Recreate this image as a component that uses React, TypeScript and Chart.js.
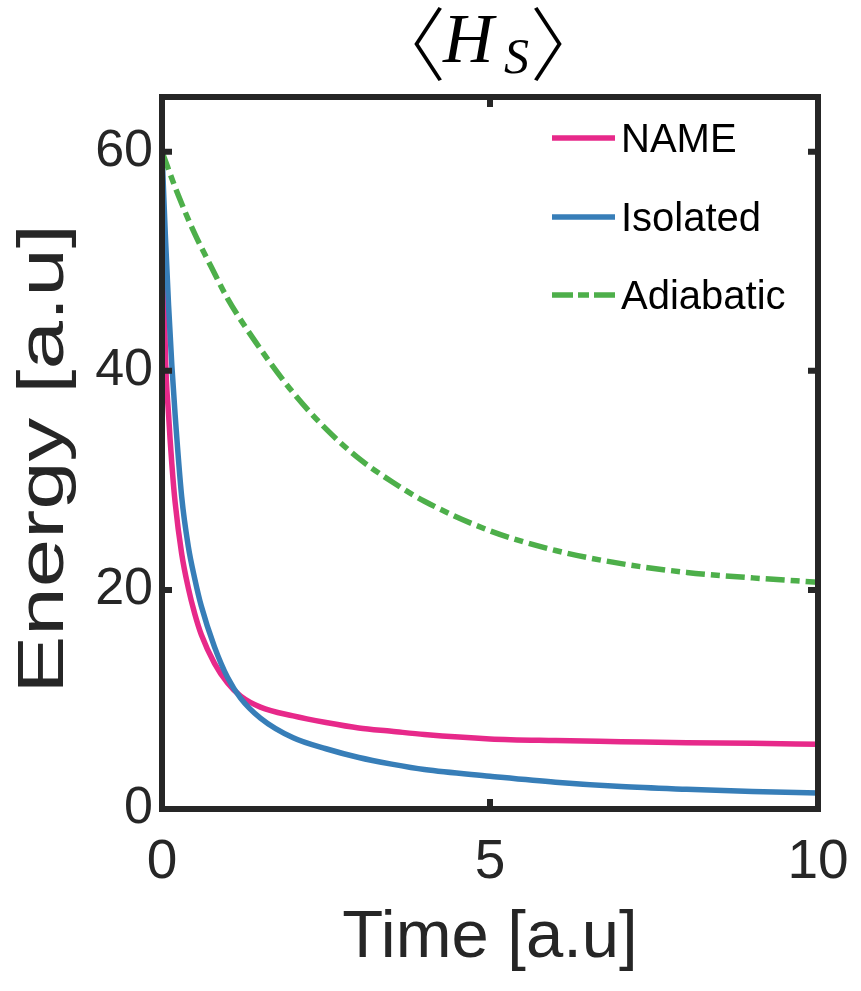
import React, { useEffect, useRef } from "react";
import { Chart, registerables } from "chart.js";

Chart.register(...registerables);

// ---- data ----
const timeSteep = [0, 0.05, 0.1, 0.15, 0.2, 0.3, 0.4, 0.5, 0.6, 0.8, 1.0, 1.2, 1.5, 2.0, 2.5, 3.0, 3.5, 4.0, 5.0, 6.0, 7.0, 8.0, 9.0, 10.0];
const nameValues = [60, 42, 36, 31.5, 28, 23.3, 20.2, 17.8, 15.9, 13.3, 11.5, 10.3, 9.3, 8.5, 7.9, 7.4, 7.1, 6.8, 6.4, 6.25, 6.15, 6.05, 6.0, 5.9];
const isolatedValues = [60, 52.5, 46, 40.5, 36, 28.5, 24, 21, 18.5, 14.8, 12.0, 10.1, 8.3, 6.5, 5.5, 4.7, 4.1, 3.6, 3.0, 2.45, 2.05, 1.8, 1.6, 1.45];
const timeAdiabatic = [0, 0.25, 0.5, 0.75, 1, 1.5, 2, 2.5, 3, 3.5, 4, 5, 6, 7, 8, 9, 10];
const adiabaticValues = [60, 56, 52.5, 49.5, 46.6, 42, 38, 34.7, 32, 29.9, 28.1, 25.4, 23.6, 22.4, 21.6, 21.1, 20.7];

const seriesLabels = ["NAME", "Isolated", "Adiabatic"];
const xTicks = [0, 5, 10];
const yTicks = [0, 20, 40, 60];
const xTitle = "Time [a.u]";
const yTitle = "Energy [a.u]";

const PINK = "#E7298A";
const BLUE = "#377EB8";
const GREEN = "#4DAF4A";
const AXIS = "#262626";
const SANS = '"Liberation Sans", Arial, Helvetica, sans-serif';
const DASH = [19, 6, 9, 6];

const pts = (xs: number[], ys: number[]) => xs.map((x, i) => ({ x, y: ys[i] }));

const framePlugin = {
  id: "frame",
  afterDatasetsDraw(chart: any) {
    const { ctx, chartArea: a, scales } = chart;
    ctx.save();
    ctx.strokeStyle = AXIS;
    ctx.lineWidth = 6;
    ctx.setLineDash([]);
    ctx.lineCap = "butt";
    ctx.strokeRect(a.left, a.top, a.right - a.left, a.bottom - a.top);
    const tl = 10;
    ctx.beginPath();
    for (const v of xTicks) {
      const px = scales.x.getPixelForValue(v);
      ctx.moveTo(px, a.bottom);
      ctx.lineTo(px, a.bottom - tl);
      ctx.moveTo(px, a.top);
      ctx.lineTo(px, a.top + tl);
    }
    for (const v of yTicks) {
      const py = scales.y.getPixelForValue(v);
      ctx.moveTo(a.left, py);
      ctx.lineTo(a.left + tl, py);
      ctx.moveTo(a.right, py);
      ctx.lineTo(a.right - tl, py);
    }
    ctx.stroke();

    // legend
    const colors = [PINK, BLUE, GREEN];
    const ys = [138, 217, 295];
    for (let i = 0; i < 3; i++) {
      ctx.beginPath();
      ctx.strokeStyle = colors[i];
      ctx.lineWidth = 5.5;
      ctx.setLineDash(i === 2 ? [21, 5, 11, 5] : []);
      ctx.moveTo(552, ys[i]);
      ctx.lineTo(615, ys[i]);
      ctx.stroke();
      ctx.setLineDash([]);
      ctx.fillStyle = "#000000";
      ctx.font = `40px ${SANS}`;
      ctx.textAlign = "left";
      ctx.textBaseline = "middle";
      ctx.fillText(seriesLabels[i], 621, ys[i] + 3);
    }

    // y axis title (stretched along its length like the reference)
    ctx.save();
    ctx.translate(45, 459);
    ctx.rotate(-Math.PI / 2);
    ctx.scale(1.34, 1);
    ctx.fillStyle = AXIS;
    ctx.font = `65px ${SANS}`;
    ctx.textAlign = "center";
    ctx.textBaseline = "middle";
    ctx.fillText(yTitle, 0, 0);
    ctx.restore();

    // title  <H_S>
    const cx = (a.left + a.right) / 2;
    ctx.fillStyle = "#000000";
    ctx.textBaseline = "middle";
    ctx.textAlign = "center";
    ctx.font = '300 80px "Noto Sans CJK JP", "DejaVu Sans", serif';
    ctx.fillText("〈", cx - 84, 44);
    ctx.fillText("〉", cx + 80, 44);
    ctx.textBaseline = "alphabetic";
    ctx.textAlign = "left";
    ctx.font = 'italic 70px "Liberation Serif", "Times New Roman", serif';
    ctx.fillText("H", cx - 47, 62);
    ctx.font = 'italic 50px "Liberation Serif", "Times New Roman", serif';
    ctx.fillText("S", cx + 14, 73);
    ctx.restore();
  },
};

export default function App() {
  const ref = useRef<HTMLCanvasElement | null>(null);
  useEffect(() => {
    if (!ref.current) return;
    const chart = new Chart(ref.current, {
      type: "line",
      data: {
        datasets: [
          {
            label: seriesLabels[0],
            data: pts(timeSteep, nameValues),
            borderColor: PINK,
            borderWidth: 5.5,
            pointRadius: 0,
            cubicInterpolationMode: "monotone",
            order: 2,
          },
          {
            label: seriesLabels[1],
            data: pts(timeSteep, isolatedValues),
            borderColor: BLUE,
            borderWidth: 5.5,
            pointRadius: 0,
            cubicInterpolationMode: "monotone",
            order: 1,
          },
          {
            label: seriesLabels[2],
            data: pts(timeAdiabatic, adiabaticValues),
            borderColor: GREEN,
            borderWidth: 5.5,
            borderDash: DASH,
            pointRadius: 0,
            cubicInterpolationMode: "monotone",
            order: 0,
          },
        ],
      },
      options: {
        responsive: false,
        animation: false,
        layout: { padding: { left: 0, right: 43, top: 97, bottom: 0 } },
        plugins: { legend: { display: false }, tooltip: { enabled: false }, title: { display: false } },
        scales: {
          x: {
            type: "linear",
            min: 0,
            max: 10,
            grid: { display: false, drawTicks: false },
            border: { display: false },
            afterBuildTicks: (s: any) => {
              s.ticks = xTicks.map((v) => ({ value: v }));
            },
            afterFit: (s: any) => {
              s.height = 182;
              s.paddingLeft = 0;
              s.paddingRight = 0;
            },
            ticks: {
              padding: 21,
              color: AXIS,
              maxRotation: 0,
              font: { family: SANS, size: 55, lineHeight: 1.2 },
            },
            title: {
              display: true,
              text: xTitle,
              color: AXIS,
              font: { family: SANS, size: 67, lineHeight: 1.2 },
              padding: { top: 0, bottom: 12 },
            },
          },
          y: {
            type: "linear",
            min: 0,
            max: 65,
            grid: { display: false, drawTicks: false },
            border: { display: false },
            afterBuildTicks: (s: any) => {
              s.ticks = yTicks.map((v) => ({ value: v }));
            },
            afterFit: (s: any) => {
              s.width = 162;
              s.paddingTop = 0;
              s.paddingBottom = 0;
            },
            ticks: {
              padding: 9,
              color: AXIS,
              font: { family: SANS, size: 52, lineHeight: 1.2 },
            },
            title: { display: false },
          },
        },
      },
      plugins: [framePlugin],
    });
    return () => chart.destroy();
  }, []);
  return (
    <canvas
      ref={ref}
      width={861}
      height={991}
      style={{ position: "absolute", left: 0, top: 0, width: 861, height: 991, display: "block", background: "#ffffff" }}
    />
  );
}
